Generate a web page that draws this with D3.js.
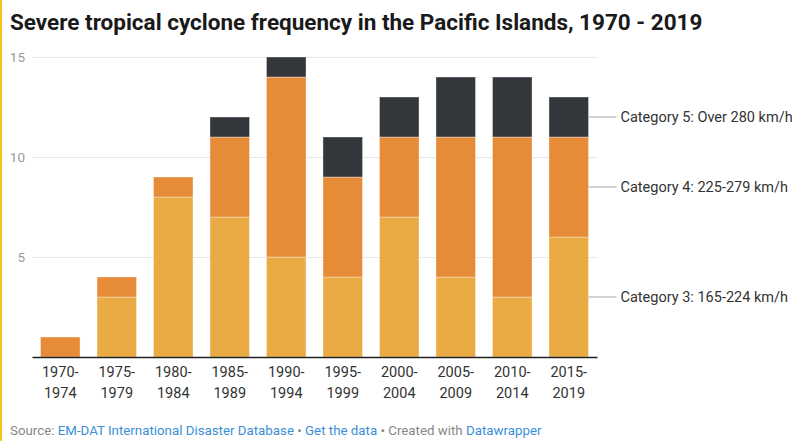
<!DOCTYPE html>
<html>
<head>
<meta charset="utf-8">
<script src="https://cdn.jsdelivr.net/npm/d3@7"></script>
<style>
  html, body { margin: 0; padding: 0; background: #fff; }
  body { width: 792px; height: 441px; overflow: hidden; border-left: 2px solid #f5c518; box-sizing: border-box; }
  svg { display: block; font-family: Roboto, "Noto Sans", sans-serif; }
</style>
</head>
<body>
<svg id="chart" width="790" height="441"></svg>
<script>
// Five-year periods and counts of severe cyclones by category
const periods = ["1970-1974", "1975-1979", "1980-1984", "1985-1989", "1990-1994",
                 "1995-1999", "2000-2004", "2005-2009", "2010-2014", "2015-2019"];
const cat3 = [0, 3, 8, 7, 5, 4, 7, 4, 3, 6];
const cat4 = [1, 1, 1, 4, 9, 5, 4, 7, 8, 5];
const cat5 = [0, 0, 0, 1, 1, 2, 2, 3, 3, 2];
const seriesNames = ["Category 3: 165-224 km/h", "Category 4: 225-279 km/h", "Category 5: Over 280 km/h"];
const seriesColors = ["#eaab45", "#e68c39", "#33363b"];
const yTicks = [5, 10, 15];

const svg = d3.select("#chart");
const x0 = 30, x1 = 595, yTop = 57, yBase = 357;

const rows = periods.map((p, i) => ({ period: p, c3: cat3[i], c4: cat4[i], c5: cat5[i] }));
const stack = d3.stack().keys(["c3", "c4", "c5"]);
const layers = stack(rows);

const x = d3.scaleBand().domain(periods).range([x0, x1]).paddingInner(0.3).paddingOuter(0.15);
const y = d3.scaleLinear().domain([0, 15]).range([yBase, yTop]);

// title
svg.append("text")
  .attr("x", 8).attr("y", 30)
  .attr("font-size", 22.5).attr("font-weight", 700).attr("fill", "#1a1a1a")
  .text("Severe tropical cyclone frequency in the Pacific Islands, 1970 - 2019");

// gridlines and y labels
const yAxis = d3.axisLeft(y).tickValues(yTicks).tickSize(-(x1 - x0)).tickPadding(7);
const gy = svg.append("g").attr("transform", `translate(${x0},0)`).call(yAxis);
gy.select(".domain").remove();
gy.selectAll(".tick line").attr("stroke", "#e6e6e6").attr("stroke-width", 1);
gy.selectAll(".tick text").attr("fill", "#9a9a9a").attr("font-size", 13.5)
  .attr("font-family", "Roboto, sans-serif");

// stacked bars
svg.append("g").selectAll("g").data(layers).join("g")
  .attr("fill", (d, i) => seriesColors[i])
  .selectAll("rect").data(d => d.filter(s => s[1] > s[0])).join("rect")
  .attr("x", d => x(d.data.period))
  .attr("width", x.bandwidth())
  .attr("y", d => y(d[1]))
  .attr("height", d => y(d[0]) - y(d[1]))
  .attr("stroke", "#ffffff").attr("stroke-opacity", 0.45).attr("stroke-width", 0.8);

// baseline
const xAxis = d3.axisBottom(x).tickSize(0).tickFormat("");
const gx = svg.append("g").attr("transform", `translate(0,${yBase})`).call(xAxis);
gx.select(".domain").attr("stroke", "#222").attr("stroke-width", 1.5);

// two-line period labels under each bar
const labels = svg.append("g").attr("font-size", 14.5).attr("fill", "#333").attr("text-anchor", "middle");
periods.forEach(p => {
  const parts = p.split("-");
  const cx = x(p) + x.bandwidth() / 2;
  labels.append("text").attr("x", cx).attr("y", yBase + 20).text(parts[0] + "-");
  labels.append("text").attr("x", cx).attr("y", yBase + 41).text(parts[1]);
});

// direct labels on the last bar
const lastIdx = periods.length - 1;
const lastRight = x(periods[lastIdx]) + x.bandwidth();
layers.forEach((layer, i) => {
  const seg = layer[lastIdx];
  const ym = y((seg[0] + seg[1]) / 2);
  svg.append("line").attr("x1", lastRight).attr("x2", lastRight + 28)
    .attr("y1", ym).attr("y2", ym).attr("stroke", "#aaa").attr("stroke-width", 1);
  svg.append("text").attr("x", lastRight + 32).attr("y", ym).attr("dy", "0.35em")
    .attr("font-size", 14.5).attr("fill", "#333").text(seriesNames[i]);
});

// footer
const foot = svg.append("text").attr("x", 8).attr("y", 435).attr("font-size", 13.3).attr("fill", "#888");
foot.append("tspan").text("Source: ");
foot.append("tspan").attr("fill", "#3b8fd6").text("EM-DAT International Disaster Database");
foot.append("tspan").text(" • ");
foot.append("tspan").attr("fill", "#3b8fd6").text("Get the data");
foot.append("tspan").text(" • Created with ");
foot.append("tspan").attr("fill", "#3b8fd6").text("Datawrapper");
</script>
</body>
</html>
